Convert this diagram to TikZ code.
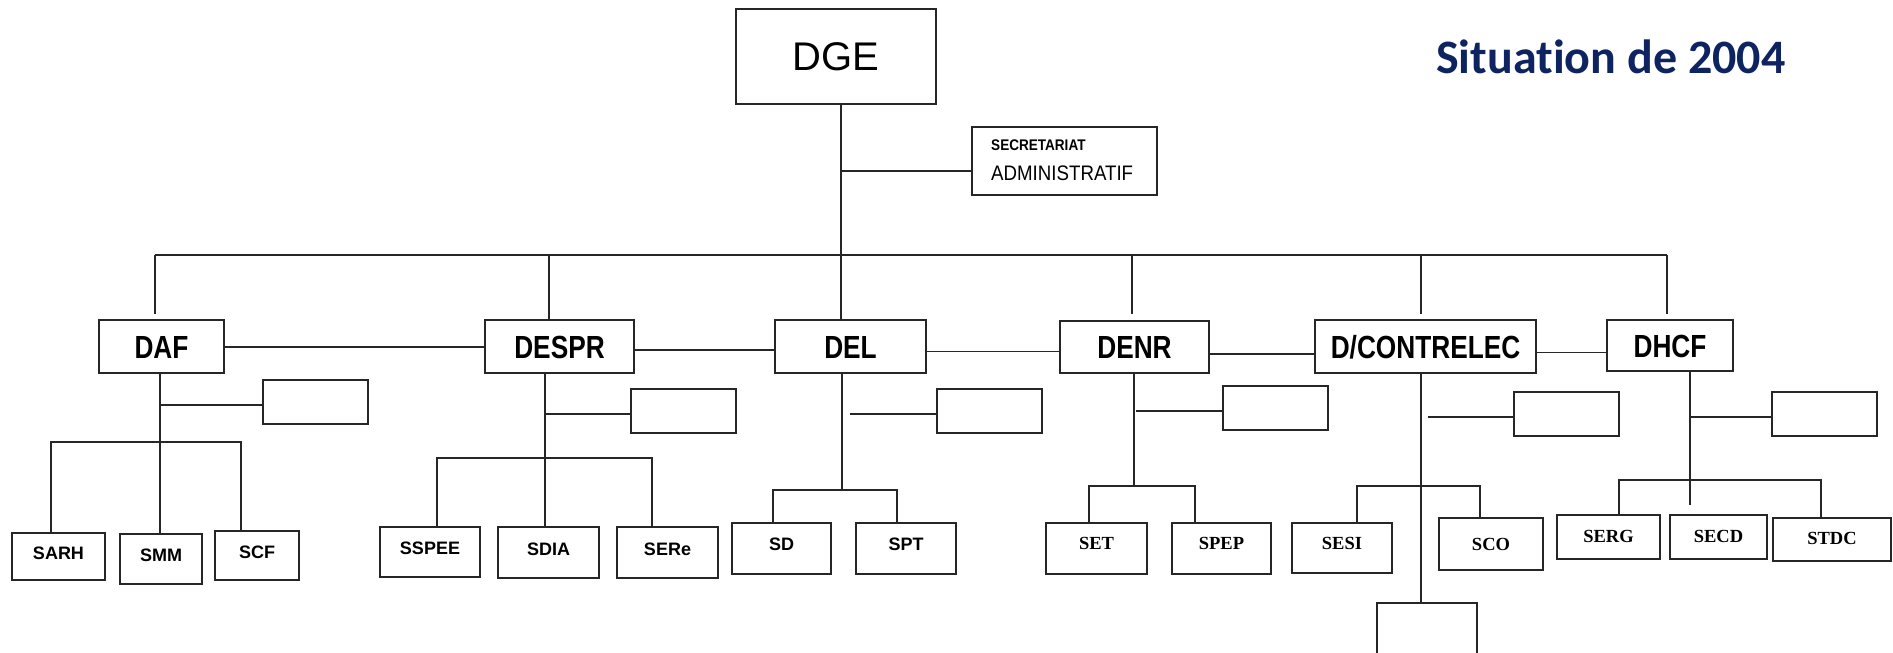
\documentclass[tikz,border=0pt]{standalone}
\usepackage{fontspec}
\usepackage{graphicx}
\setmainfont{Liberation Sans}
\newfontfamily\serifbf{Liberation Serif}
\newfontfamily\titlefont[Ligatures=NoCommon]{Carlito}
\definecolor{navy}{RGB}{14,36,96}
\newcommand\dirlab[1]{\scalebox{0.82}[1]{\fontsize{32}{36}\selectfont\bfseries #1}}
\begin{document}
\begin{tikzpicture}[x=1pt,y=-1pt,
  box/.style={draw=black!85, line width=1.8pt, inner sep=0pt, outer sep=0pt},
  conn/.style={draw=black!85, line width=1.8pt},
  dirbox/.style={box, text height=23pt, text depth=0pt},
  subsans/.style={box, font=\fontsize{18}{20}\selectfont\bfseries, text height=13pt, text depth=8pt},
  subserif/.style={box, font=\serifbf\fontsize{18.5}{20}\selectfont\bfseries, text height=12pt, text depth=7pt}]
\useasboundingbox (0,0) rectangle (1893,653);
\fill[white] (0,0) rectangle (1893,653);
\clip (0,0) rectangle (1893,653);

% title
\node[anchor=base west, inner sep=0pt, text=navy, font=\titlefont\fontsize{48}{50}\selectfont\bfseries] (title) at (1436,73) {Situation de 2004};

% top
\node[box, minimum width=200pt, minimum height=95pt, font=\fontsize{40}{44}\selectfont] (dge) at (836,56.5) {DGE};
\node[box, minimum width=185pt, minimum height=68pt] (sec) at (1064.5,161) {};
\node[anchor=base west, inner sep=0pt] (secA) at (991,150) {\scalebox{0.88}[1]{\fontsize{15.4}{16}\selectfont\bfseries SECRETARIAT}};
\node[anchor=base west, inner sep=0pt] (secB) at (991,180) {\scalebox{0.89}[1]{\fontsize{21}{22}\selectfont ADMINISTRATIF}};

% directors
\node[dirbox, minimum width=125pt, minimum height=53pt] (daf) at (161.5,346.5) {\dirlab{DAF}};
\node[dirbox, minimum width=149pt, minimum height=53pt] (despr) at (559.5,346.5) {\dirlab{DESPR}};
\node[dirbox, minimum width=151pt, minimum height=53pt] (del) at (850.5,346.5) {\dirlab{DEL}};
\node[dirbox, minimum width=149pt, minimum height=52pt] (denr) at (1134.5,347) {\dirlab{DENR}};
\node[dirbox, minimum width=221pt, minimum height=53pt] (dcon) at (1425.5,346.5) {\dirlab{D/CONTRELEC}};
\node[dirbox, minimum width=126pt, minimum height=51pt] (dhcf) at (1670,345.5) {\dirlab{DHCF}};

% side boxes
\node[box, minimum width=105pt, minimum height=44pt] (sdaf) at (315.5,402) {};
\node[box, minimum width=105pt, minimum height=44pt] (sdespr) at (683.5,411) {};
\node[box, minimum width=105pt, minimum height=44pt] (sdel) at (989.5,411) {};
\node[box, minimum width=105pt, minimum height=44pt] (sdenr) at (1275.5,408) {};
\node[box, minimum width=105pt, minimum height=44pt] (sdcon) at (1566.5,414) {};
\node[box, minimum width=105pt, minimum height=44pt] (sdhcf) at (1824.5,414) {};
\node[box, minimum width=100pt, minimum height=77pt] (bot) at (1427,641.5) {};

% services
\node[subsans, minimum width=93pt, minimum height=47pt] (sarh) at (58.5,556.5) {SARH};
\node[subsans, minimum width=82pt, minimum height=50pt] (smm) at (161,559) {SMM};
\node[subsans, minimum width=84pt, minimum height=49pt] (scf) at (257,555.5) {SCF};
\node[subsans, minimum width=100pt, minimum height=50pt] (sspee) at (430,552) {SSPEE};
\node[subsans, minimum width=101pt, minimum height=51pt] (sdia) at (548.5,552.5) {SDIA};
\node[subsans, minimum width=101pt, minimum height=51pt] (sere) at (667.5,552.5) {SERe};
\node[subsans, minimum width=99pt, minimum height=51pt, text depth=10pt] (sd) at (781.5,548.5) {SD};
\node[subsans, minimum width=100pt, minimum height=51pt, text depth=10pt] (spt) at (906,548.5) {SPT};
\node[subserif, minimum width=101pt, minimum height=51pt, text depth=10pt] (set) at (1096.5,548.5) {SET};
\node[subserif, minimum width=99pt, minimum height=51pt, text depth=10pt] (spep) at (1221.5,548.5) {SPEP};
\node[subserif, minimum width=100pt, minimum height=50pt, text depth=10pt] (sesi) at (1342,548) {SESI};
\node[subserif, minimum width=104pt, minimum height=52pt, text depth=0pt] (sco) at (1491,544) {SCO};
\node[subserif, minimum width=103pt, minimum height=44pt, text depth=2pt] (serg) at (1608.5,537) {SERG};
\node[subserif, minimum width=97pt, minimum height=44pt, text depth=2pt] (secd) at (1718.5,537) {SECD};
\node[subserif, minimum width=118pt, minimum height=43pt, text depth=2pt] (stdc) at (1832,539.5) {STDC};

% top connectors
\coordinate (tr) at (841,255);
\coordinate (secj) at (841,171);
\draw[conn] (dge.south -| tr) -- (tr);
\draw[conn] (secj) -- (secj -| sec.west);
\coordinate (busL) at (155,255);
\coordinate (busR) at (1667,255);
\coordinate (bDESPR) at (549,255);
\coordinate (bDENR) at (1132,255);
\coordinate (bDCON) at (1421,255);
\draw[conn] (busL) -- (busR);
\draw[conn, shorten >=6pt] (busL) -- (busL |- daf.north);
\draw[conn] (bDESPR) -- (bDESPR |- despr.north);
\draw[conn] (tr) -- (tr |- del.north);
\draw[conn, shorten >=7pt] (bDENR) -- (bDENR |- denr.north);
\draw[conn, shorten >=6pt] (bDCON) -- (bDCON |- dcon.north);
\draw[conn, shorten >=6pt] (busR) -- (busR |- dhcf.north);

% links between directors
\draw[conn] ([yshift=-0.6pt]daf.east) -- ([yshift=-0.6pt]despr.west);
\draw[conn] ([yshift=-3.5pt]despr.east) -- ([yshift=-3.5pt]del.west);
\draw[conn] ([yshift=-5pt]del.east) -- ([yshift=-4.5pt]denr.west);
\draw[conn] ([yshift=-7pt]denr.east) -- ([yshift=-7.5pt]dcon.west);
\draw[conn] ([yshift=-6pt]dcon.east) -- ([yshift=-7pt]dhcf.west);

% DAF
\coordinate (dafT) at (160,442);
\coordinate (dafS) at (160,405);
\coordinate (dafL) at (51,442);
\coordinate (dafR) at (241,442);
\draw[conn] (daf.south -| dafT) -- (dafT |- smm.north);
\draw[conn] (dafS) -- (dafS -| sdaf.west);
\draw[conn] (dafL |- sarh.north) -- (dafL) -- (dafR) -- (dafR |- scf.north);

% DESPR
\coordinate (desT) at (545,458);
\coordinate (desS) at (545,414);
\coordinate (desL) at (437,458);
\coordinate (desR) at (652,458);
\draw[conn] (despr.south -| desT) -- (desT |- sdia.north);
\draw[conn] (desS) -- (desS -| sdespr.west);
\draw[conn] (desL |- sspee.north) -- (desL) -- (desR) -- (desR |- sere.north);

% DEL
\coordinate (delT) at (842,490);
\coordinate (delS) at (850,414);
\coordinate (delL) at (773,490);
\coordinate (delR) at (897,490);
\draw[conn] (del.south -| delT) -- (delT);
\draw[conn] (delS) -- (delS -| sdel.west);
\draw[conn] (delL |- sd.north) -- (delL) -- (delR) -- (delR |- spt.north);

% DENR
\coordinate (denT) at (1134,486);
\coordinate (denS) at (1136,411);
\coordinate (denL) at (1089,486);
\coordinate (denR) at (1195,486);
\draw[conn] (denr.south -| denT) -- (denT);
\draw[conn] (denS) -- (denS -| sdenr.west);
\draw[conn] (denL |- set.north) -- (denL) -- (denR) -- (denR |- spep.north);

% D/CONTRELEC
\coordinate (dcT) at (1421,486);
\coordinate (dcS) at (1428,417);
\coordinate (dcL) at (1357,486);
\coordinate (dcR) at (1480,486);
\draw[conn] (dcon.south -| dcT) -- (dcT |- bot.north);
\draw[conn] (dcS) -- (dcS -| sdcon.west);
\draw[conn] (dcL |- sesi.north) -- (dcL) -- (dcR) -- (dcR |- sco.north);

% DHCF
\coordinate (dhT) at (1690,480);
\coordinate (dhS) at (1690,417);
\coordinate (dhL) at (1619,480);
\coordinate (dhR) at (1821,480);
\coordinate (dhM) at (1690,505);
\draw[conn] (dhcf.south -| dhT) -- (dhT) -- (dhM);
\draw[conn] (dhS) -- (dhS -| sdhcf.west);
\draw[conn] (dhL |- serg.north) -- (dhL) -- (dhR) -- (dhR |- stdc.north);
\end{tikzpicture}
\end{document}
